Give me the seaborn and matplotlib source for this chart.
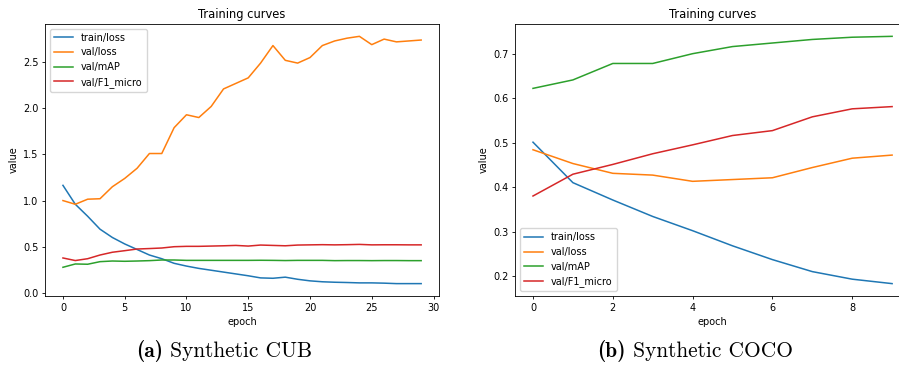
import numpy as np
import pandas as pd
import matplotlib
matplotlib.use("Agg")
import matplotlib.pyplot as plt
import seaborn as sns

# ---- data ----
series_names = ["train/loss", "val/loss", "val/mAP", "val/F1_micro"]
colors = ["#1f77b4", "#ff7f0e", "#2ca02c", "#d62728"]

cub_epochs = list(range(30))
cub_train_loss = [1.165, 0.96, 0.83, 0.69, 0.60, 0.53, 0.47, 0.41, 0.37, 0.32,
                  0.29, 0.265, 0.245, 0.225, 0.205, 0.185, 0.162, 0.158, 0.17, 0.147,
                  0.13, 0.12, 0.115, 0.112, 0.108, 0.108, 0.105, 0.10, 0.10, 0.10]
cub_val_loss = [1.00, 0.96, 1.015, 1.02, 1.15, 1.24, 1.35, 1.51, 1.51, 1.79,
                1.93, 1.90, 2.02, 2.21, 2.27, 2.33, 2.49, 2.68, 2.52, 2.49,
                2.55, 2.68, 2.73, 2.76, 2.78, 2.69, 2.75, 2.72, 2.73, 2.74]
cub_val_map = [0.277, 0.313, 0.31, 0.338, 0.345, 0.342, 0.345, 0.349, 0.356, 0.356,
               0.352, 0.352, 0.352, 0.352, 0.352, 0.352, 0.353, 0.352, 0.35, 0.352,
               0.352, 0.352, 0.349, 0.35, 0.35, 0.349, 0.35, 0.35, 0.349, 0.349]
cub_val_f1 = [0.378, 0.35, 0.37, 0.41, 0.44, 0.457, 0.475, 0.48, 0.486, 0.50,
              0.504, 0.504, 0.507, 0.51, 0.514, 0.507, 0.518, 0.514, 0.51, 0.518,
              0.52, 0.522, 0.52, 0.522, 0.525, 0.52, 0.521, 0.521, 0.52, 0.52]

coco_epochs = list(range(10))
coco_train_loss = [0.501, 0.410, 0.371, 0.334, 0.302, 0.268, 0.237, 0.210, 0.193, 0.183]
coco_val_loss = [0.484, 0.453, 0.431, 0.427, 0.413, 0.417, 0.421, 0.444, 0.465, 0.472]
coco_val_map = [0.622, 0.641, 0.678, 0.678, 0.700, 0.716, 0.724, 0.732, 0.737, 0.739]
coco_val_f1 = [0.380, 0.429, 0.451, 0.475, 0.495, 0.516, 0.527, 0.558, 0.576, 0.581]

caption_tags = ["(a)", "(b)"]
caption_names = ["Synthetic CUB", "Synthetic COCO"]


def to_long(epochs, *values):
    frames = []
    for name, vals in zip(series_names, values):
        frames.append(pd.DataFrame({"epoch": epochs, "value": vals, "metric": name}))
    return pd.concat(frames, ignore_index=True)


cub_df = to_long(cub_epochs, cub_train_loss, cub_val_loss, cub_val_map, cub_val_f1)
coco_df = to_long(coco_epochs, coco_train_loss, coco_val_loss, coco_val_map, coco_val_f1)

# ---- style ----
fs = 7.0

fig = plt.figure(figsize=(8.99, 3.66), dpi=100)
ax1 = fig.add_axes([0.0501, 0.1913, 0.4383, 0.7432])
ax2 = fig.add_axes([0.5729, 0.1913, 0.4394, 0.7432])


def draw(ax, df, legend_loc):
    sns.lineplot(data=df, x="epoch", y="value", hue="metric",
                 hue_order=series_names, palette=colors, linewidth=1.1, ax=ax)
    handles = ax.get_legend().legend_handles
    ax.legend(handles=handles, labels=series_names, loc=legend_loc, fontsize=fs,
              handlelength=2.0, borderpad=0.4, labelspacing=0.48)
    ax.set_title("Training curves", fontsize=8.3, pad=4)
    ax.set_xlabel("epoch", fontsize=fs, labelpad=2.8)
    ax.set_ylabel("value", fontsize=fs, labelpad=2.8)
    ax.tick_params(labelsize=fs, length=2.4, width=0.6, pad=2.4)
    for sp in ax.spines.values():
        sp.set_linewidth(0.6)


draw(ax1, cub_df, "upper left")
draw(ax2, coco_df, "lower left")
ax1.set_xticks([0, 5, 10, 15, 20, 25, 30])

# sub-figure captions: bold tag followed by the roman name, centred as a whole
renderer = fig.canvas.get_renderer()
cap_size = 15.4
cap_y = 0.024
for tag, name, cx in zip(caption_tags, caption_names, [224 / 899, 695 / 899]):
    t1 = fig.text(0, cap_y, tag, fontsize=cap_size, family="cmb10", va="baseline")
    t2 = fig.text(0, cap_y, " " + name, fontsize=cap_size,
                  family="cmr10", va="baseline")
    w1 = t1.get_window_extent(renderer).width / fig.bbox.width
    w2 = t2.get_window_extent(renderer).width / fig.bbox.width
    x0 = cx - (w1 + w2) / 2
    t1.set_x(x0)
    t2.set_x(x0 + w1)

fig.savefig("out.png", dpi=100)
